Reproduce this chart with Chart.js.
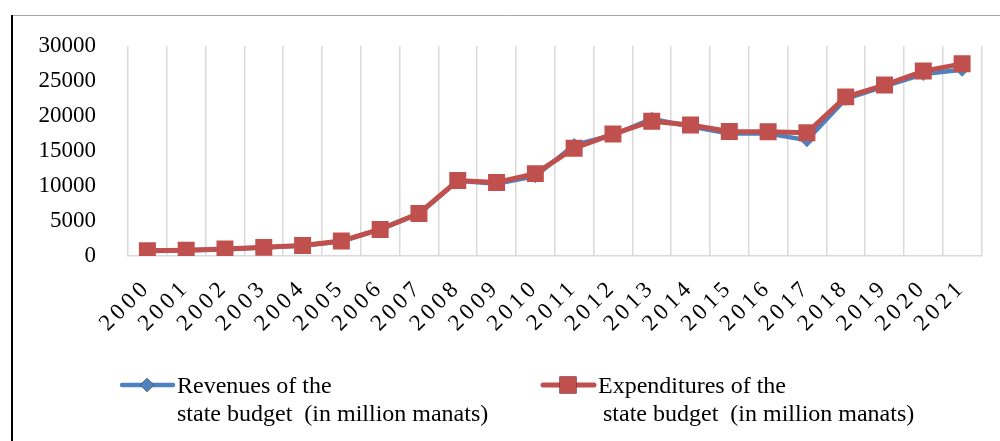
<!DOCTYPE html>
<html>
<head>
<meta charset="utf-8">
<script src="https://cdn.jsdelivr.net/npm/chart.js@4/dist/chart.umd.min.js"></script>
<style>
  html, body { margin: 0; padding: 0; background: #fff; }
  #wrap { width: 1000px; height: 441px; }
</style>
</head>
<body>
<div id="wrap"><canvas id="budgetChart" width="1000" height="441"></canvas></div>
<script>
var years = ['2000', '2001', '2002', '2003', '2004', '2005', '2006', '2007', '2008', '2009', '2010',
             '2011', '2012', '2013', '2014', '2015', '2016', '2017', '2018', '2019', '2020', '2021'];
var revenues = [790, 822, 946, 1224, 1482, 2055, 3881, 6006, 10762, 10326, 11403,
                15850, 17282, 19600, 18500, 17500, 17506, 16550, 22450, 24250, 26000, 26600];
var expenditures = [764, 835, 1012, 1234, 1500, 2140, 3790, 6086, 10774, 10503, 11766,
                    15398, 17417, 19250, 18710, 17785, 17751, 17595, 22732, 24425, 26416, 27450];
var yTicks = [0, 5000, 10000, 15000, 20000, 25000, 30000];

var serif = '"Liberation Serif", "Times New Roman", serif';

// frame + hand drawn legend (line through marker, two-line label)
var framePlugin = {
    id: 'frame',
    beforeDraw: function (chart) {
        var ctx = chart.ctx;
        ctx.save();
        ctx.strokeStyle = '#a6a6a6';
        ctx.lineWidth = 1;
        ctx.beginPath();
        ctx.moveTo(11, 15.5);
        ctx.lineTo(1000, 15.5);
        ctx.stroke();
        ctx.strokeStyle = '#000';
        ctx.lineWidth = 2;
        ctx.beginPath();
        ctx.moveTo(12, 15);
        ctx.lineTo(12, 441);
        ctx.stroke();
        ctx.restore();
    },
    afterDraw: function (chart) {
        var ctx = chart.ctx;
        var items = [
            { ds: 1, x: 120, tx: 177, tx2: 177, lines: ['Revenues of the', 'state budget  (in million manats)'] },
            { ds: 0, x: 541, tx: 598, tx2: 603, lines: ['Expenditures of the', 'state budget  (in million manats)'] }
        ];
        var y = 385;
        items.forEach(function (it) {
            var d = chart.data.datasets[it.ds];
            ctx.save();
            ctx.strokeStyle = d.borderColor;
            ctx.lineWidth = d.borderWidth;
            ctx.lineCap = 'round';
            ctx.beginPath();
            ctx.moveTo(it.x + 2, y);
            ctx.lineTo(it.x + 53, y);
            ctx.stroke();
            Chart.helpers.drawPoint(ctx, {
                pointStyle: d.pointStyle,
                radius: d.pointRadius,
                rotation: 0,
                borderWidth: 0
            }, it.x + 27, y);
            ctx.fillStyle = d.pointBackgroundColor;
            ctx.fill();
            ctx.fillStyle = '#000';
            ctx.font = '24px ' + serif;
            ctx.textBaseline = 'alphabetic';
            ctx.textAlign = 'left';
            ctx.fillText(it.lines[0], it.tx, y + 8);
            ctx.fillText(it.lines[1], it.tx2, y + 36);
            ctx.restore();
        });
    }
};

// wider letter spacing on the year labels
var spacedLabels = {
    id: 'spacedLabels',
    afterLayout: function (chart) {
        var s = chart.scales.x;
        if (s._spaced) return;
        var orig = s.drawLabels;
        s.drawLabels = function (area) {
            chart.ctx.save();
            chart.ctx.letterSpacing = '4px';
            orig.call(s, area);
            chart.ctx.restore();
        };
        s._spaced = true;
    }
};

var ctx = document.getElementById('budgetChart').getContext('2d');
var budgetChart = new Chart(ctx, {
    type: 'line',
    data: {
        labels: years,
        datasets: [{
            label: 'Expenditures of the state budget  (in million manats)',
            data: expenditures,
            borderColor: '#c0504d',
            backgroundColor: '#c0504d',
            pointBackgroundColor: '#c0504d',
            pointBorderColor: '#c0504d',
            borderWidth: 5,
            pointStyle: 'rect',
            pointRadius: 12,
            pointBorderWidth: 0,
            tension: 0,
            fill: false,
            order: 0
        }, {
            label: 'Revenues of the state budget  (in million manats)',
            data: revenues,
            borderColor: '#4f81bd',
            backgroundColor: '#4f81bd',
            pointBackgroundColor: '#4f81bd',
            pointBorderColor: '#4f81bd',
            borderWidth: 4.5,
            pointStyle: 'rectRot',
            pointRadius: 7,
            pointBorderWidth: 0,
            tension: 0,
            fill: false,
            order: 1
        }]
    },
    options: {
        responsive: false,
        animation: false,
        layout: { autoPadding: false, padding: { left: 20, right: 17, top: 46, bottom: 0 } },
        plugins: {
            legend: { display: false },
            tooltip: { enabled: false }
        },
        scales: {
            x: {
                offset: true,
                grid: { display: true, offset: true, color: '#d9d9d9', lineWidth: 1.5, drawTicks: false },
                border: { color: '#d9d9d9', width: 1.5 },
                ticks: {
                    minRotation: 45,
                    maxRotation: 45,
                    padding: 18,
                    color: '#000',
                    font: { family: serif, size: 23 },
                    autoSkip: false
                },
                afterFit: function (scale) { scale.height = 185; }
            },
            y: {
                min: 0,
                max: 30000,
                grid: { display: false },
                border: { display: false },
                afterBuildTicks: function (scale) {
                    scale.ticks = yTicks.map(function (v) { return { value: v }; });
                },
                ticks: {
                    padding: 24,
                    color: '#000',
                    font: { family: serif, size: 23 },
                    callback: function (v) { return String(v); }
                },
                afterFit: function (scale) { scale.width = 108; }
            }
        }
    },
    plugins: [framePlugin, spacedLabels]
});
</script>
</body>
</html>
